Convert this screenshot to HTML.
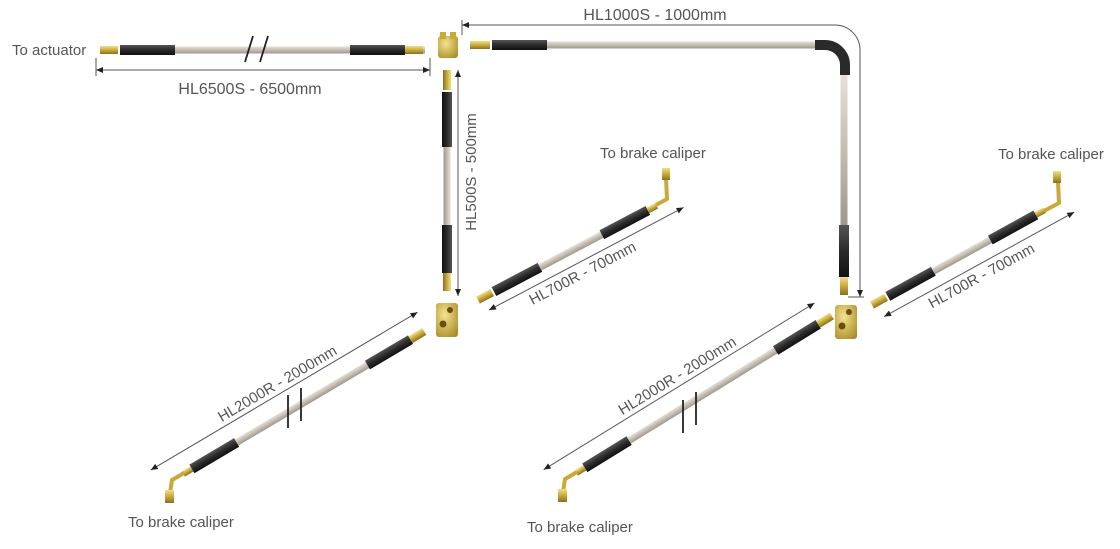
<!DOCTYPE html>
<html><head><meta charset="utf-8"><style>
html,body{margin:0;padding:0;background:#fff;}
svg{display:block;}
text{font-family:"Liberation Sans",Arial,sans-serif;fill:#555;}
</style></head><body>
<svg width="1120" height="549" viewBox="0 0 1120 549" xmlns="http://www.w3.org/2000/svg">
<defs>
<linearGradient id="br" x1="0" y1="0" x2="0" y2="1"><stop offset="0" stop-color="#e6e0d6"/><stop offset="0.5" stop-color="#c4bcb0"/><stop offset="1" stop-color="#9e978c"/></linearGradient>
<linearGradient id="sl" x1="0" y1="0" x2="0" y2="1"><stop offset="0" stop-color="#555"/><stop offset="0.5" stop-color="#2a2a2a"/><stop offset="1" stop-color="#111"/></linearGradient>
<linearGradient id="bs" x1="0" y1="0" x2="0" y2="1"><stop offset="0" stop-color="#f0e08a"/><stop offset="0.5" stop-color="#c9a93a"/><stop offset="1" stop-color="#8a7020"/></linearGradient>
<radialGradient id="blk" cx="0.4" cy="0.35" r="0.8"><stop offset="0" stop-color="#f4e38e"/><stop offset="1" stop-color="#a88a25"/></radialGradient>
</defs>

<!-- HL6500S -->
<g transform="translate(100,50)">
<rect x="0" y="-4" width="18" height="8" fill="url(#bs)"/>
<rect x="20" y="-5" width="55" height="10" fill="url(#sl)"/>
<rect x="75" y="-3.5" width="250" height="7" fill="url(#br)"/>
<rect x="250" y="-5" width="55" height="10" fill="url(#sl)"/>
<rect x="305" y="-4" width="18" height="8" fill="url(#bs)"/>
</g>
<line x1="245" y1="62" x2="253" y2="36" stroke="#222" stroke-width="1.8"/>
<line x1="260" y1="62" x2="268" y2="36" stroke="#222" stroke-width="1.8"/>
<line x1="96" y1="58" x2="96" y2="76" stroke="#555"/>
<line x1="430" y1="58" x2="430" y2="76" stroke="#555"/>
<line x1="96" y1="70" x2="430" y2="70" stroke="#555"/>
<path d="M96 70 l7 -3 v6z M430 70 l-7 -3 v6z" fill="#222"/>
<text x="12" y="55" font-size="15">To actuator</text>
<text x="250" y="94" font-size="16" text-anchor="middle">HL6500S - 6500mm</text>

<!-- top tee -->
<rect x="438" y="36" width="20" height="22" rx="3" fill="url(#blk)"/>
<rect x="440" y="32" width="6" height="7" fill="#c9a93a"/><rect x="450" y="32" width="6" height="7" fill="#c9a93a"/>

<!-- HL500S vertical -->
<g transform="translate(447,70) rotate(90)">
<rect x="0" y="-4" width="20" height="8" fill="url(#bs)"/>
<rect x="22" y="-5" width="55" height="10" fill="url(#sl)"/>
<rect x="77" y="-3.5" width="80" height="7" fill="url(#br)"/>
<rect x="155" y="-5" width="48" height="10" fill="url(#sl)"/>
<rect x="203" y="-4" width="18" height="8" fill="url(#bs)"/>
</g>
<line x1="458" y1="70" x2="458" y2="296" stroke="#555"/>
<path d="M458 70 l-3 7 h6z M458 296 l-3 -7 h6z" fill="#222"/>
<text transform="translate(476,172) rotate(-90)" font-size="15" text-anchor="middle">HL500S - 500mm</text>

<!-- lower left tee -->
<rect x="436" y="303" width="22" height="34" rx="3" fill="url(#blk)"/>
<circle cx="450" cy="310" r="3" fill="#6a5010"/><circle cx="443" cy="324" r="3.5" fill="#6a5010"/>

<!-- HL1000S -->
<rect x="470" y="41" width="20" height="8" fill="url(#bs)"/>
<rect x="492" y="40" width="55" height="10" fill="url(#sl)"/>
<rect x="547" y="41.5" width="268" height="7" fill="url(#br)"/>
<path d="M815 45 h10 a20 20 0 0 1 20 20 v10" fill="none" stroke="#2a2a2a" stroke-width="10"/>
<rect x="840.5" y="75" width="7" height="152" fill="url(#br)"/>
<rect x="839" y="225" width="10" height="52" fill="url(#sl)"/>
<rect x="840" y="277" width="8" height="18" fill="url(#bs)"/>
<path d="M462 25 H835 a25 25 0 0 1 25 25 V297" fill="none" stroke="#555"/>
<line x1="462" y1="35" x2="462" y2="20" stroke="#555"/>
<line x1="848" y1="297" x2="864" y2="297" stroke="#555"/>
<path d="M462 25 l7 -3 v6z M860 297 l-3 -7 h6z" fill="#222"/>
<text x="655" y="20" font-size="16" text-anchor="middle">HL1000S - 1000mm</text>

<!-- right tee -->
<rect x="835" y="305" width="22" height="34" rx="3" fill="url(#blk)"/>
<circle cx="849" cy="312" r="3" fill="#6a5010"/><circle cx="842" cy="326" r="3.5" fill="#6a5010"/>

<!-- left HL700R -->
<g transform="translate(478,300) rotate(-27.8)">
<rect x="0" y="-4" width="16" height="8" fill="url(#bs)"/>
<rect x="18" y="-5" width="52" height="10" fill="url(#sl)"/>
<rect x="70" y="-3.5" width="75" height="7" fill="url(#br)"/>
<rect x="140" y="-5" width="52" height="10" fill="url(#sl)"/>
<rect x="192" y="-3" width="10" height="6" fill="url(#bs)"/>
<line x1="5" y1="14" x2="225" y2="14" stroke="#555"/>
<path d="M5 14 l7 -3 v6z M225 14 l-7 -3 v6z" fill="#222"/>
<text x="105" y="30" font-size="15" text-anchor="middle">HL700R - 700mm</text>
</g>
<path d="M656 205 L667 199 L666 178" fill="none" stroke="#c9a93a" stroke-width="4"/>
<rect x="662" y="168" width="8" height="12" fill="url(#bs)"/>
<text x="600" y="158" font-size="15">To brake caliper</text>

<!-- right HL700R -->
<g transform="translate(872,305) rotate(-28.8)">
<rect x="0" y="-4" width="16" height="8" fill="url(#bs)"/>
<rect x="18" y="-5" width="52" height="10" fill="url(#sl)"/>
<rect x="70" y="-3.5" width="70" height="7" fill="url(#br)"/>
<rect x="135" y="-5" width="52" height="10" fill="url(#sl)"/>
<rect x="187" y="-3" width="10" height="6" fill="url(#bs)"/>
<line x1="5" y1="16" x2="222" y2="16" stroke="#555"/>
<path d="M5 16 l7 -3 v6z M222 16 l-7 -3 v6z" fill="#222"/>
<text x="110" y="32" font-size="15" text-anchor="middle">HL700R - 700mm</text>
</g>
<path d="M1044 211 L1059 203 L1058 182" fill="none" stroke="#c9a93a" stroke-width="4"/>
<rect x="1053" y="171" width="8" height="12" fill="url(#bs)"/>
<text x="998" y="159" font-size="15">To brake caliper</text>

<!-- left HL2000R -->
<g transform="translate(185,473) rotate(-30.6)">
<rect x="-2" y="-3" width="10" height="6" fill="url(#bs)"/>
<rect x="8" y="-5" width="52" height="10" fill="url(#sl)"/>
<rect x="60" y="-3.5" width="160" height="7" fill="url(#br)"/>
<rect x="212" y="-5" width="50" height="10" fill="url(#sl)"/>
<rect x="262" y="-4" width="16" height="8" fill="url(#bs)"/>
<line x1="-28" y1="-20" x2="282" y2="-20" stroke="#555"/>
<path d="M-28 -20 l7 -3 v6z M282 -20 l-7 -3 v6z" fill="#222"/>
<text x="125" y="-25" font-size="15" text-anchor="middle">HL2000R - 2000mm</text>
</g>
<line x1="288" y1="395" x2="288" y2="428" stroke="#222" stroke-width="1.8"/>
<line x1="301" y1="388" x2="301" y2="421" stroke="#222" stroke-width="1.8"/>
<path d="M184 473 L172 480 L170 493" fill="none" stroke="#c9a93a" stroke-width="4"/>
<rect x="165" y="490" width="9" height="13" fill="url(#bs)"/>
<text x="128" y="527" font-size="15">To brake caliper</text>

<!-- right HL2000R -->
<g transform="translate(578,472) rotate(-31.6)">
<rect x="-2" y="-3" width="10" height="6" fill="url(#bs)"/>
<rect x="8" y="-5" width="52" height="10" fill="url(#sl)"/>
<rect x="60" y="-3.5" width="180" height="7" fill="url(#br)"/>
<rect x="232" y="-5" width="50" height="10" fill="url(#sl)"/>
<rect x="282" y="-4" width="16" height="8" fill="url(#bs)"/>
<line x1="-28" y1="-20" x2="290" y2="-20" stroke="#555"/>
<path d="M-28 -20 l7 -3 v6z M290 -20 l-7 -3 v6z" fill="#222"/>
<text x="135" y="-25" font-size="15" text-anchor="middle">HL2000R - 2000mm</text>
</g>
<line x1="683" y1="400" x2="683" y2="433" stroke="#222" stroke-width="1.8"/>
<line x1="696" y1="392" x2="696" y2="425" stroke="#222" stroke-width="1.8"/>
<path d="M577 472 L565 479 L563 492" fill="none" stroke="#c9a93a" stroke-width="4"/>
<rect x="558" y="489" width="9" height="13" fill="url(#bs)"/>
<text x="527" y="532" font-size="15">To brake caliper</text>
</svg>
</body></html>
